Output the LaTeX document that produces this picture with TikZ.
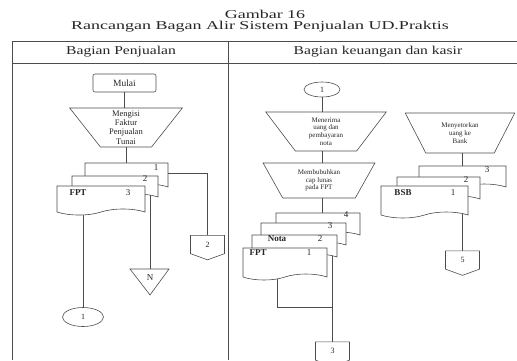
\documentclass[tikz,border=0pt]{standalone}
\usepackage{fontspec}
\setmainfont{Liberation Serif}
\usetikzlibrary{shapes.geometric,shapes.symbols,backgrounds}
\begin{document}
\begin{tikzpicture}[x=1pt,y=-1pt,
  ln/.style={draw=black!70, line width=0.6pt},
  every node/.style={text=black!85},
  term/.style={ln, rounded corners=2pt, minimum width=63pt, minimum height=18pt, inner sep=0pt, font=\fontsize{9.5}{10}\selectfont},
  trapL/.style={ln, trapezium, shape border rotate=180, trapezium stretches=true, inner sep=0pt, align=center, font=\fontsize{8.5}{9.3}\selectfont},
  trapR/.style={ln, trapezium, shape border rotate=180, trapezium stretches=true, inner sep=0pt, align=center, font=\fontsize{7}{7.6}\selectfont},
  docS/.style={ln, fill=white, tape, tape bend top=none, tape bend height=6pt, inner sep=0pt},
  conn/.style={ln, ellipse, inner sep=0pt, font=\fontsize{8}{9}\selectfont},
  offp/.style={ln, signal, signal to=south, signal from=nowhere, signal pointer angle=140, minimum width=34pt, minimum height=19pt, inner sep=0pt, font=\fontsize{8}{9}\selectfont},
  lab/.style={inner sep=0pt, font=\fontsize{9}{10}\selectfont},
  dname/.style={inner sep=0pt, font=\bfseries\fontsize{9}{10}\selectfont},
  ttl/.style={inner sep=0pt, transform shape, xscale=1.5, font=\fontsize{12}{13}\selectfont},
  hdr/.style={inner sep=0pt, transform shape, xscale=1.3, font=\fontsize{12}{13}\selectfont}
]
\useasboundingbox (0,0) rectangle (517,360);

% titles
\node[ttl] (t1) at (265,14) {Gambar 16};
\node[ttl] (t2) at (260,27) {Rancangan Bagan Alir Sistem Penjualan UD.Praktis};

% table
\draw[ln] (12,41) -- (517,41);
\draw[ln] (12,63) -- (517,63);
\draw[ln] (12,41) -- (12,360);
\draw[ln] (228,41) -- (228,360);
\node[hdr] (h1) at (121,52) {Bagian Penjualan};
\node[hdr] (h2) at (378,52) {Bagian keuangan dan kasir};

% ---------- left column
\node[term] (mulai) at (124.5,83) {Mulai};
\node[trapL, minimum width=113pt, minimum height=39pt, trapezium left angle=59, trapezium right angle=59] (tL) at (126,127.5) {Mengisi\\Faktur\\Penjualan\\Tunai};
\node[docS, minimum width=83pt, minimum height=27pt] (L3) at (126.5,173.5) {};
\node[docS, minimum width=86pt, minimum height=24pt] (L2) at (115,185) {};
\node[docS, minimum width=88pt, minimum height=29pt] (L1) at (101,197.5) {};
\node[lab] (L3n) at (156,168) {1};
\node[lab] (L2n) at (145,179) {2};
\node[dname] (L1a) at (78,193) {FPT};
\node[lab] (L1n) at (128,193) {3};

\node[conn, minimum width=41pt, minimum height=19pt] (c1) at (83,317) {1};
\coordinate (Ntop) at (150,269);
\draw[ln] (130,269) -- (169,269) -- (150,295) -- cycle;
\node[lab] (N) at (150,278) {N};
\node[offp] (c2) at (207.5,244.5) {2};

\draw[ln] (mulai.south) -- (mulai.south |- tL.north);
\draw[ln] (tL.south) -- (tL.south |- L3.north);
\draw[ln] (L3.east) -| (c2.north);
\begin{scope}[on background layer]
\draw[ln] (c1.north |- L1.center) -- (c1.north);
\draw[ln] (Ntop |- L2.center) -- (Ntop);
\end{scope}

% ---------- right column
\node[conn, minimum width=36pt, minimum height=15pt] (c1r) at (322,89.5) {1};
\node[trapR, minimum width=121pt, minimum height=39pt, trapezium left angle=59, trapezium right angle=59] (tR1) at (326,131.5) {Menerima\\uang dan\\pembayaran\\nota};
\node[trapR, minimum width=112pt, minimum height=35pt, trapezium left angle=62, trapezium right angle=62] (tR2) at (319,180.5) {Membubuhkan\\cap lunas\\pada FPT};
\node[docS, minimum width=84pt, minimum height=25pt] (R4) at (318,222.5) {};
\node[docS, minimum width=85pt, minimum height=25pt] (R3) at (303.5,232.5) {};
\node[docS, minimum width=85pt, minimum height=25pt] (R2) at (294.5,244.5) {};
\node[docS, minimum width=84pt, minimum height=32pt] (R1) at (285,261) {};
\node[lab] (R4n) at (346,215) {4};
\node[lab] (R3n) at (330,226) {3};
\node[dname] (R2a) at (277,239) {Nota};
\node[lab] (R2n) at (320,239) {2};
\node[dname] (R1a) at (258,253) {FPT};
\node[lab] (R1n) at (309,253) {1};
\node[offp] (c3) at (332.5,351) {3};
\coordinate (j1) at (277,307);

\draw[ln] (c1r.south) -- (c1r.south |- tR1.north);
\draw[ln] (c1r.south |- tR1.south) -- (c1r.south |- tR2.north);
\draw[ln] (c1r.south |- tR2.south) -- (c1r.south |- R4.north);
\begin{scope}[on background layer]
\draw[ln] (c3.north |- R2.center) -- (c3.north);
\draw[ln] (j1 |- R1.center) -- (j1) -- (j1 -| c3.north);
\end{scope}

\node[trapR, minimum width=110pt, minimum height=40pt, trapezium left angle=61, trapezium right angle=61] (tR3) at (460,133) {Menyetorkan\\uang ke\\Bank};
\node[docS, minimum width=87pt, minimum height=24pt] (B3) at (462.5,175) {};
\node[docS, minimum width=83pt, minimum height=25pt] (B2) at (438.5,186.5) {};
\node[docS, minimum width=87pt, minimum height=32pt] (B1) at (424.5,199) {};
\node[lab] (B3n) at (487,170) {3};
\node[lab] (B2n) at (466,180) {2};
\node[dname] (B1a) at (403,193) {BSB};
\node[lab] (B1n) at (453,193) {1};
\node[offp] (c5) at (462.5,260) {5};

\draw[ln] (B3.north |- tR3.south) -- (B3.north);
\begin{scope}[on background layer]
\draw[ln] (c5.north |- B1.center) -- (c5.north);
\end{scope}
\end{tikzpicture}
\end{document}
